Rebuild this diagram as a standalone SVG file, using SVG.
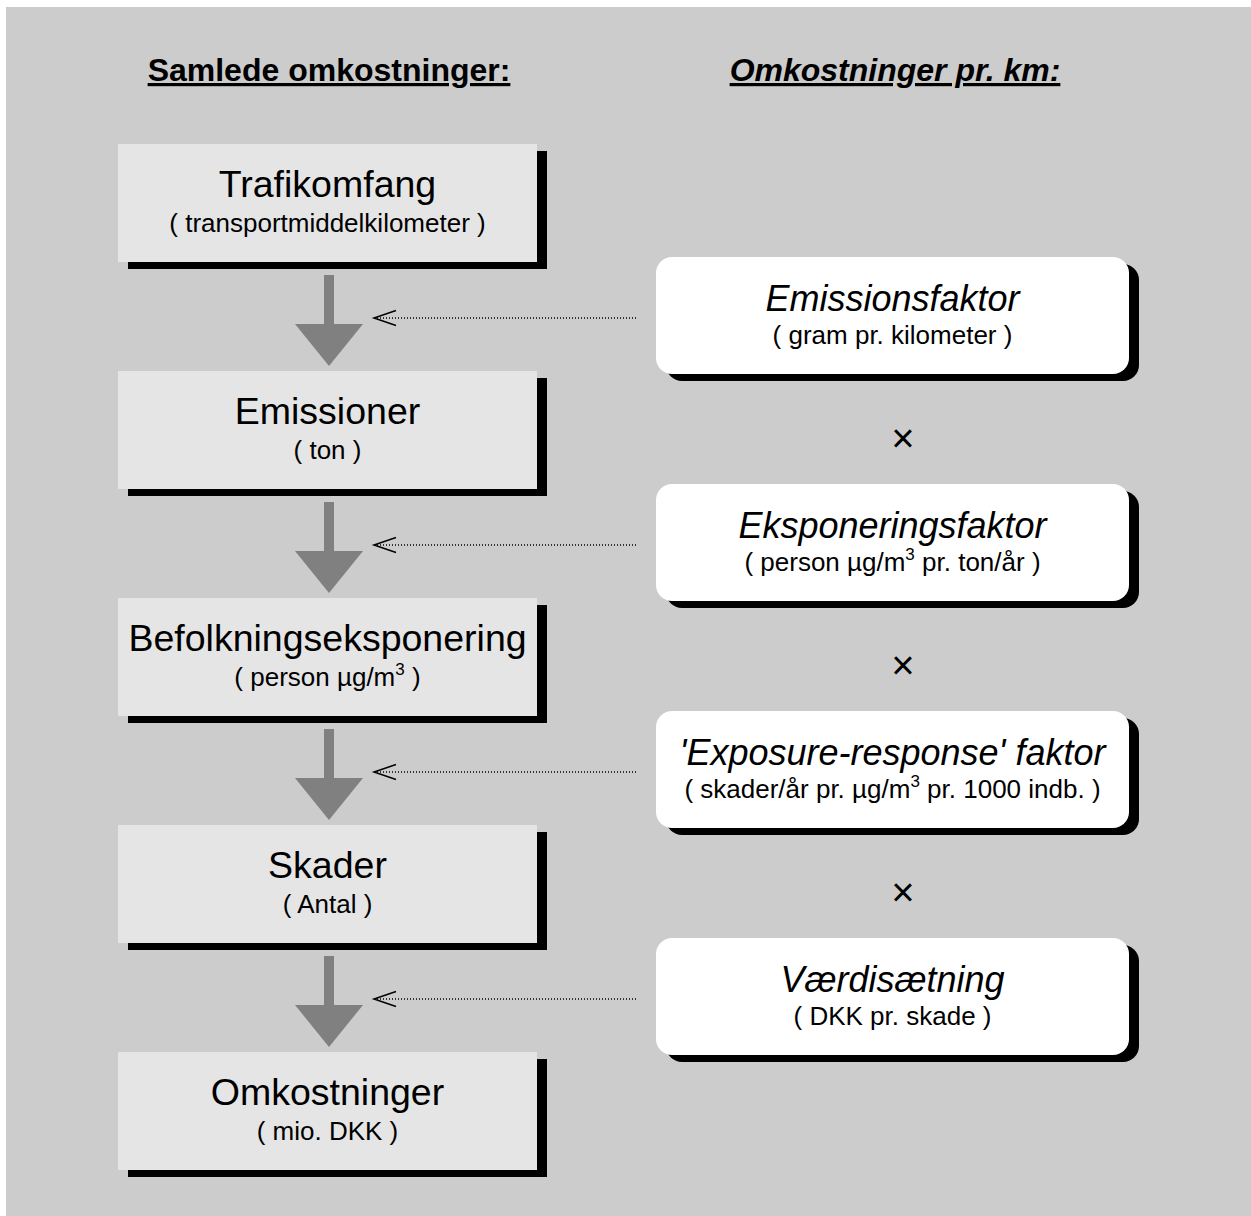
<svg xmlns="http://www.w3.org/2000/svg" width="1251" height="1216" viewBox="0 0 1251 1216">
<style>
  text { font-family: "Liberation Sans", Arial, sans-serif; fill: #000; text-anchor: middle; }
  .hdr { font-size: 32px; font-weight: bold; text-decoration: underline; }
  .t { font-size: 37.5px; }
  .ti { font-size: 36px; font-style: italic; }
  .s { font-size: 26px; }
  .sup { font-size: 17px; }
  .box { fill: #e5e5e5; }
  .rbox { fill: #ffffff; }
  .shadow { fill: #000; }
  .down { fill: #808080; }
  .dot { stroke: #000; stroke-width: 1.5; stroke-dasharray: 1 2; fill: none; }
  .ah { stroke: #000; stroke-width: 1.5; fill: none; }
  .x { font-size: 40px; }
</style>
<rect x="6" y="7" width="1245" height="1209" fill="#cccccc"/>
<text class="hdr" x="329" y="81">Samlede omkostninger:</text>
<text class="hdr" x="895" y="81" font-style="italic">Omkostninger pr. km:</text>

<g id="n1">
  <rect class="shadow" x="128" y="151" width="419" height="118"/>
  <rect class="box" x="118" y="144" width="419" height="118"/>
  <text class="t" x="327.5" y="197">Trafikomfang</text>
  <text class="s" x="327.5" y="232">( transportmiddelkilometer )</text>
</g>
<g id="n2">
  <rect class="shadow" x="128" y="378" width="419" height="118"/>
  <rect class="box" x="118" y="371" width="419" height="118"/>
  <text class="t" x="327.5" y="424">Emissioner</text>
  <text class="s" x="327.5" y="459">( ton )</text>
</g>
<g id="n3">
  <rect class="shadow" x="128" y="605" width="419" height="118"/>
  <rect class="box" x="118" y="598" width="419" height="118"/>
  <text class="t" x="327.5" y="651">Befolkningseksponering</text>
  <text class="s" x="327.5" y="686">( person µg/m<tspan class="sup" dy="-11">3</tspan><tspan dy="11"> )</tspan></text>
</g>
<g id="n4">
  <rect class="shadow" x="128" y="832" width="419" height="118"/>
  <rect class="box" x="118" y="825" width="419" height="118"/>
  <text class="t" x="327.5" y="878">Skader</text>
  <text class="s" x="327.5" y="913">( Antal )</text>
</g>
<g id="n5">
  <rect class="shadow" x="128" y="1059" width="419" height="118"/>
  <rect class="box" x="118" y="1052" width="419" height="118"/>
  <text class="t" x="327.5" y="1105">Omkostninger</text>
  <text class="s" x="327.5" y="1140">( mio. DKK )</text>
</g>

<g id="f1">
  <rect class="shadow" x="666" y="264" width="473" height="117" rx="16"/>
  <rect class="rbox" x="656" y="257" width="473" height="117" rx="16"/>
  <text class="ti" x="892.5" y="311">Emissionsfaktor</text>
  <text class="s" x="892.5" y="344">( gram pr. kilometer )</text>
</g>
<g id="f2">
  <rect class="shadow" x="666" y="491" width="473" height="117" rx="16"/>
  <rect class="rbox" x="656" y="484" width="473" height="117" rx="16"/>
  <text class="ti" x="892.5" y="538">Eksponeringsfaktor</text>
  <text class="s" x="892.5" y="571">( person µg/m<tspan class="sup" dy="-11">3</tspan><tspan dy="11"> pr. ton/år )</tspan></text>
</g>
<g id="f3">
  <rect class="shadow" x="666" y="718" width="473" height="117" rx="16"/>
  <rect class="rbox" x="656" y="711" width="473" height="117" rx="16"/>
  <text class="ti" x="892.5" y="765">'Exposure-response' faktor</text>
  <text class="s" x="892.5" y="798">( skader/år pr. µg/m<tspan class="sup" dy="-11">3</tspan><tspan dy="11"> pr. 1000 indb. )</tspan></text>
</g>
<g id="f4">
  <rect class="shadow" x="666" y="945" width="473" height="117" rx="16"/>
  <rect class="rbox" x="656" y="938" width="473" height="117" rx="16"/>
  <text class="ti" x="892.5" y="992">Værdisætning</text>
  <text class="s" x="892.5" y="1025">( DKK pr. skade )</text>
</g>

<g id="ops">
  <text class="x" x="903" y="452">×</text>
  <text class="x" x="903" y="679">×</text>
  <text class="x" x="903" y="906">×</text>
</g>

<g id="connectors">
  <polygon class="down" points="324,275 334,275 334,324 363,324 329,366 295,324 324,324"/>
  <polygon class="down" points="324,502 334,502 334,551 363,551 329,593 295,551 324,551"/>
  <polygon class="down" points="324,729 334,729 334,778 363,778 329,820 295,778 324,778"/>
  <polygon class="down" points="324,956 334,956 334,1005 363,1005 329,1047 295,1005 324,1005"/>

  <line class="dot" x1="636" y1="318" x2="375" y2="318"/>
  <polyline class="ah" points="396,310.5 374,318 396,325.5"/>
  <line class="dot" x1="636" y1="545" x2="375" y2="545"/>
  <polyline class="ah" points="396,537.5 374,545 396,552.5"/>
  <line class="dot" x1="636" y1="772" x2="375" y2="772"/>
  <polyline class="ah" points="396,764.5 374,772 396,779.5"/>
  <line class="dot" x1="636" y1="999" x2="375" y2="999"/>
  <polyline class="ah" points="396,991.5 374,999 396,1006.5"/>
</g>
</svg>
